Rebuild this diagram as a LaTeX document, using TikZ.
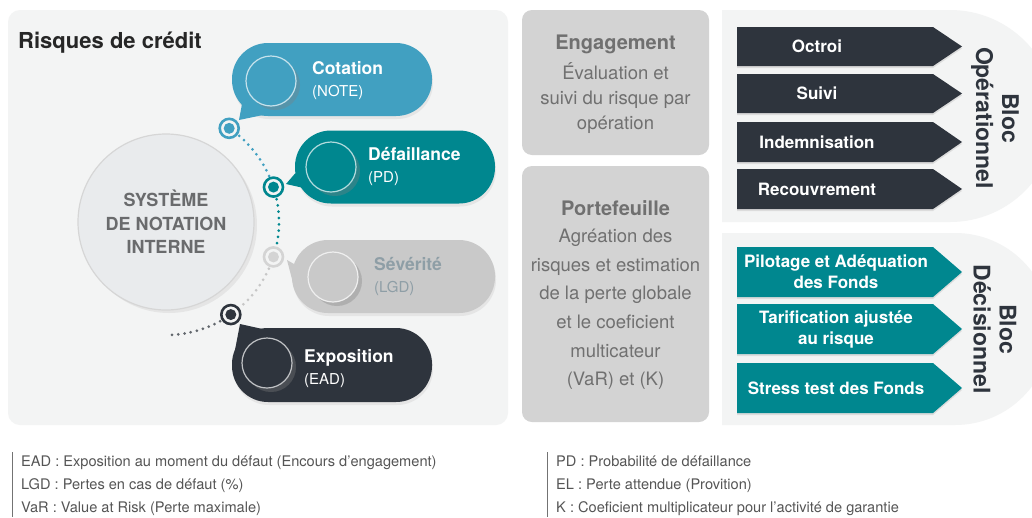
\documentclass[tikz,border=0pt]{standalone}
\usepackage{fontspec}
\setmainfont{TeX Gyre Heros}
\usepackage{tikz}
\usetikzlibrary{calc,shadows}

\definecolor{panel}{HTML}{F3F4F4}
\definecolor{boxgray}{HTML}{D3D3D3}
\definecolor{boxtxt}{HTML}{707070}
\definecolor{cotblue}{HTML}{41A0C1}
\definecolor{defteal}{HTML}{00878F}
\definecolor{sevgray}{HTML}{C9C9C9}
\definecolor{sevtxt}{HTML}{8E9EA6}
\definecolor{darkslate}{HTML}{2E343D}
\definecolor{syscirc}{HTML}{E9EBED}
\definecolor{systxt}{HTML}{6A6B6D}
\definecolor{notetxt}{HTML}{555555}

\begin{document}
\begin{tikzpicture}[x=1pt, y=1pt,
		pill/.style={rectangle, rounded corners=36pt, minimum width=200pt, minimum height=73pt, inner sep=0pt,
			drop shadow={shadow xshift=1pt, shadow yshift=-3pt, opacity=.12}},
		knob/.style={circle, minimum size=50pt, inner sep=0pt, fill=#1, draw=white!70!#1, line width=1.2pt,
			drop shadow={shadow xshift=4pt, shadow yshift=-4pt, opacity=.35}},
		ring/.style={circle, draw=#1, line width=2.6pt, fill=panel, minimum size=19pt, inner sep=0pt,
			path picture={\fill[#1] (path picture bounding box.center) circle (5.5pt);}},
		trail/.style={draw=#1, line width=3pt, line cap=round, dash pattern=on 0pt off 6.3pt},
		pilltxt/.style={anchor=west, align=left, inner sep=0pt, font=\fontsize{17.5}{22}\selectfont},
		chevtxt/.style={align=center, inner sep=0pt, text=white, font=\bfseries\fontsize{17}{21}\selectfont},
		boxtitle/.style={inner sep=0pt, text=boxtxt, font=\bfseries\fontsize{20}{24}\selectfont},
		boxbody/.style={align=center, inner sep=0pt, text=boxtxt},
		bloc/.style={rotate=-90, align=center, inner sep=0pt, text=darkslate, font=\bfseries\fontsize{23}{26}\selectfont},
		note/.style={anchor=west, align=left, inner sep=0pt, text=notetxt, font=\fontsize{14.6}{23}\selectfont}]
			\useasboundingbox (0,0) rectangle (1032,-517);
			\clip (0,0) rectangle (1032,-517);
			\fill[white] (0,0) rectangle (1032,-517);
			
			\fill[panel, rounded corners=12pt] (8,-10) rectangle (508,-425);
			\node[anchor=base west, inner sep=0pt, text=black!85, font=\bfseries\fontsize{22}{26}\selectfont] (title) at (18,-48) {Risques de crédit};
			
			\node[circle, minimum size=176pt, fill=syscirc, draw=black!16, line width=1.2pt, align=center, text=systxt,
				font=\bfseries\fontsize{18}{23.5}\selectfont, drop shadow={shadow xshift=3pt, shadow yshift=-3pt, opacity=.12}]
				(sys) at (166,-222) {SYSTÈME\\DE NOTATION\\INTERNE};
			
			\coordinate (cCot) at ($(sys)+(56:113)$);
			\coordinate (cDef) at ($(sys)+(18:113)$);
			\coordinate (cSev) at ($(sys)+(-18:113)$);
			\coordinate (cExp) at ($(sys)+(-55:113)$);
			
			\draw[trail=cotblue] (cCot) arc (56:18:113);
			\draw[trail=defteal] (cDef) arc (18:-18:113);
			\draw[trail=black!22] (cSev) arc (-18:-55:113);
			\draw[trail=darkslate!75] (cExp) arc (-55:-89:113);
			
			\node[ring=cotblue] (rCot) at (cCot) {};
			\node[ring=defteal] (rDef) at (cDef) {};
			\node[ring=black!17] (rSev) at (cSev) {};
			\node[ring=darkslate] (rExp) at (cExp) {};
			
			\node[pill, fill=cotblue] (cot) at (332,-79.5) {};
			\fill[cotblue] (242,-104) -- (239,-120) -- (263,-115) -- cycle;
			\node[pill, fill=defteal] (def) at (395,-167) {};
			\fill[defteal] (295.5,-173) -- (286,-184) -- (301.5,-187.5) -- cycle;
			\node[pill, fill=sevgray, minimum width=203pt] (sev) at (393.5,-276.5) {};
			\fill[sevgray] (294,-264) -- (287,-260) -- (293,-283) -- cycle;
			\node[pill, fill=darkslate, minimum height=74pt] (exp) at (332,-365) {};
			\fill[darkslate] (262.5,-329) -- (240,-324) -- (235,-350) -- cycle;
			
			\node[knob=cotblue] (kCot) at (271,-81) {};
			\node[knob=defteal] (kDef) at (331,-167) {};
			\node[knob=sevgray] (kSev) at (333,-277) {};
			\node[knob=darkslate] (kExp) at (267,-363) {};
			
			\node[pilltxt, text=white] (tCot) at (312,-81) {\textbf{Cotation}\\{\fontsize{15}{22}\selectfont (NOTE)}};
			\node[pilltxt, text=white] (tDef) at (368,-166.5) {\textbf{Défaillance}\\{\fontsize{15}{22}\selectfont (PD)}};
			\node[pilltxt, text=sevtxt] (tSev) at (374,-276.5) {\textbf{Sévérité}\\{\fontsize{15}{22}\selectfont (LGD)}};
			\node[pilltxt, text=white] (tExp) at (304,-368.5) {\textbf{Exposition}\\{\fontsize{15}{22}\selectfont (EAD)}};
			
			\fill[boxgray, rounded corners=10pt] (522,-10) rectangle (709,-155);
			\fill[boxgray, rounded corners=10pt] (522,-166) rectangle (709,-422);
			\node[boxtitle] (eng) at (615.5,-44) {Engagement};
			\node[boxbody, font=\fontsize{18.5}{25}\selectfont] (engtxt) at (615.5,-98) {Évaluation et\\suivi du risque par\\opération};
			\node[boxtitle] (port) at (615.5,-208) {Portefeuille};
			\node[boxbody, font=\fontsize{18.5}{28.6}\selectfont] (porttxt) at (615.5,-309.5)
				{Agréation des\\risques et estimation\\de la perte globale\\et le coeficient\\multicateur\\(VaR) et (K)};
			
			\fill[panel] (722,-10) -- (950,-10) arc (90:-90:106) -- (722,-222) -- cycle;
			\fill[panel] (722,-233) -- (955,-233) arc (90:-90:96) -- (722,-425) -- cycle;
			
			\fill[darkslate, drop shadow={shadow xshift=0pt, shadow yshift=-2pt, opacity=.2}] (737,-27) -- (933,-27) -- (962,-46.5) -- (933,-66) -- (737,-66) -- cycle;
			\fill[darkslate, drop shadow={shadow xshift=0pt, shadow yshift=-2pt, opacity=.2}] (737,-74) -- (933,-74) -- (962,-93.5) -- (933,-113) -- (737,-113) -- cycle;
			\fill[darkslate, drop shadow={shadow xshift=0pt, shadow yshift=-2pt, opacity=.2}] (737,-122) -- (933,-122) -- (962,-142) -- (933,-162) -- (737,-162) -- cycle;
			\fill[darkslate, drop shadow={shadow xshift=0pt, shadow yshift=-2pt, opacity=.2}] (737,-169) -- (933,-169) -- (962,-189) -- (933,-209) -- (737,-209) -- cycle;
			\node[chevtxt] (octroi) at (817,-46.5) {Octroi};
			\node[chevtxt] (suivi) at (817,-93.5) {Suivi};
			\node[chevtxt] (indem) at (817,-142) {Indemnisation};
			\node[chevtxt] (recouv) at (817,-189) {Recouvrement};
			
			\fill[defteal, drop shadow={shadow xshift=0pt, shadow yshift=-2pt, opacity=.2}] (737,-247) -- (933,-247) -- (962,-272) -- (933,-297) -- (737,-297) -- cycle;
			\fill[defteal, drop shadow={shadow xshift=0pt, shadow yshift=-2pt, opacity=.2}] (737,-304) -- (933,-304) -- (962,-329) -- (933,-354) -- (737,-354) -- cycle;
			\fill[defteal, drop shadow={shadow xshift=0pt, shadow yshift=-2pt, opacity=.2}] (737,-363) -- (933,-363) -- (962,-388) -- (933,-413) -- (737,-413) -- cycle;
			\node[chevtxt] (pilot) at (836,-272) {Pilotage et Adéquation\\des Fonds};
			\node[chevtxt] (tarif) at (836,-329) {Tarification ajustée\\au risque};
			\node[chevtxt] (stress) at (836,-388) {Stress test des Fonds};
			
			\node[bloc] (blocop) at (995,-118) {Bloc\\Opérationnel};
			\node[bloc] (blocdec) at (995,-329) {Bloc\\Décisionnel};
			
			\draw[black!55, line width=0.8pt] (12,-452) -- (12,-517);
			\draw[black!55, line width=0.8pt] (547,-452) -- (547,-517);
			\node[note] (notesL) at (21,-486) {EAD : Exposition au moment du défaut (Encours d'engagement)\\LGD : Pertes en cas de défaut (\%)\\VaR : Value at Risk (Perte maximale)};
			\node[note] (notesR) at (556,-486) {PD : Probabilité de défaillance\\EL : Perte attendue (Provition)\\K : Coeficient multiplicateur pour l'activité de garantie};
		\end{tikzpicture}
\end{document}
